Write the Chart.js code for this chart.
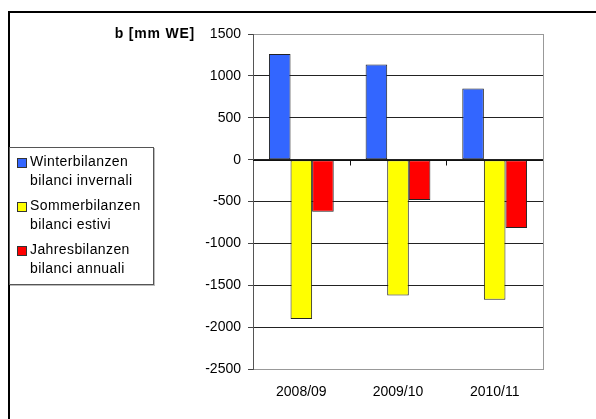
<!DOCTYPE html>
<html>
<head>
<meta charset="utf-8">
<script src="https://cdn.jsdelivr.net/npm/chart.js@4.4.1/dist/chart.umd.min.js"></script>
<style>
  html, body { margin: 0; padding: 0; background: #fff; }
  #wrap { position: relative; width: 596px; height: 419px; overflow: hidden; font-family: "Liberation Sans", Arial, sans-serif; }
  #frame { position: absolute; left: 8px; top: 11px; width: 700px; height: 600px; border-top: 2px solid #000; border-left: 2px solid #000; }
  canvas { position: absolute; left: 0; top: 0; }
  #ytitle { position: absolute; right: 401px; top: 25px; font-weight: bold; font-size: 14px; letter-spacing: 0.8px; color: #000; white-space: nowrap; }
  #legend { position: absolute; left: 9px; top: 147px; width: 143px; height: 136px; border: 1px solid #555; background: #fff; box-shadow: 1px 1px 0 #bbb; }
  .item { position: absolute; left: 7px; font-size: 14px; line-height: 19px; color: #000; letter-spacing: 0.4px; }
  .mk { position: absolute; left: 0; top: 6px; width: 8px; height: 8px; border: 1px solid #333; }
  .tx { margin-left: 13px; }
</style>
</head>
<body>
<div id="wrap">
  <div id="frame"></div>
  <canvas id="c" width="596" height="419"></canvas>
  <div id="ytitle"></div>
  <div id="legend"></div>
</div>
<script>
const categories = ["2008/09", "2009/10", "2010/11"];
const seriesNames = [
  ["Winterbilanzen", "bilanci invernali"],
  ["Sommerbilanzen", "bilanci estivi"],
  ["Jahresbilanzen", "bilanci annuali"]
];
const winterValues = [1260, 1135, 850];
const summerValues = [-1900, -1620, -1670];
const annualValues = [-620, -480, -815];
const seriesColors = ["#3366ff", "#ffff00", "#ff0000"];
const yTitle = "b [mm WE]";
const yMin = -2500, yMax = 1500, yStep = 500;

document.getElementById('ytitle').textContent = yTitle;

const legendEl = document.getElementById('legend');
seriesNames.forEach((lines, i) => {
  const it = document.createElement('div');
  it.className = 'item';
  it.style.top = (4 + i * 44) + 'px';
  const mk = document.createElement('div');
  mk.className = 'mk';
  mk.style.background = seriesColors[i];
  it.appendChild(mk);
  const tx = document.createElement('div');
  tx.className = 'tx';
  tx.innerHTML = lines.join('<br>');
  it.appendChild(tx);
  legendEl.appendChild(it);
});

const extras = {
  id: 'extras',
  afterDatasetsDraw(chart) {
    const { ctx, chartArea: a, scales: { x, y } } = chart;
    ctx.save();
    ctx.strokeStyle = '#999';
    ctx.lineWidth = 1;
    ctx.beginPath();
    ctx.moveTo(Math.round(a.right) + 0.5, a.top);
    ctx.lineTo(Math.round(a.right) + 0.5, a.bottom);
    ctx.stroke();
    const y0 = Math.round(y.getPixelForValue(0)) + 0.5;
    ctx.strokeStyle = '#111';
    ctx.beginPath();
    ctx.moveTo(a.left, y0);
    ctx.lineTo(a.right, y0);
    for (let i = 1; i < categories.length; i++) {
      const xb = Math.round((x.getPixelForValue(i - 1) + x.getPixelForValue(i)) / 2) + 0.5;
      ctx.moveTo(xb, y0);
      ctx.lineTo(xb, y0 + 5);
    }
    ctx.stroke();
    ctx.restore();
  }
};

new Chart(document.getElementById('c'), {
  type: 'bar',
  data: {
    labels: categories,
    datasets: [
      { label: seriesNames[0].join(' '), data: winterValues, backgroundColor: seriesColors[0] },
      { label: seriesNames[1].join(' '), data: summerValues, backgroundColor: seriesColors[1] },
      { label: seriesNames[2].join(' '), data: annualValues, backgroundColor: seriesColors[2] }
    ]
  },
  options: {
    responsive: false,
    animation: false,
    devicePixelRatio: 1,
    layout: { padding: { left: 200, right: 53, top: 34, bottom: 3 } },
    datasets: {
      bar: { categoryPercentage: 0.67, barPercentage: 1, borderColor: '#222', borderWidth: 1, borderSkipped: false }
    },
    plugins: { legend: { display: false }, tooltip: { enabled: false } },
    scales: {
      x: {
        grid: { display: false, drawTicks: false },
        border: { display: true, color: '#999' },
        ticks: { color: '#000', font: { family: 'Liberation Sans', size: 14 }, padding: 15, maxRotation: 0 }
      },
      y: {
        min: yMin, max: yMax,
        afterFit(s) { s.width = 53; },
        ticks: { stepSize: yStep, color: '#000', font: { family: 'Liberation Sans', size: 14 }, padding: 7,
                 callback: (v) => String(v) },
        grid: {
          color: (c) => (c.tick && (c.tick.value === yMax || c.tick.value === yMin)) ? '#999' : '#222',
          tickColor: '#444',
          tickLength: 5
        },
        border: { display: true, color: '#555' }
      }
    }
  },
  plugins: [extras]
});
</script>
</body>
</html>
